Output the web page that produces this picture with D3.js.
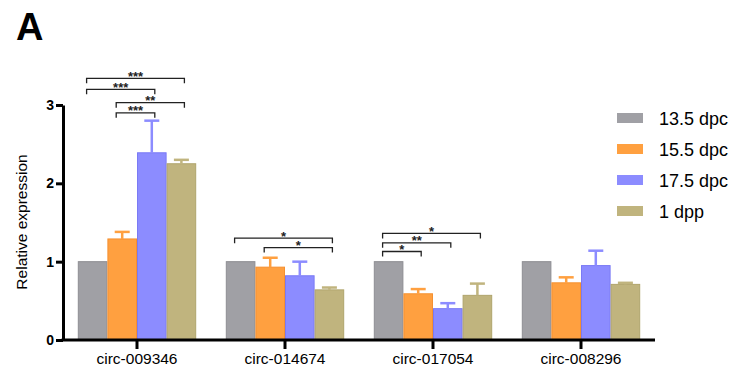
<!DOCTYPE html>
<html>
<head>
<meta charset="utf-8">
<script src="https://cdn.jsdelivr.net/npm/d3@7"></script>
<style>
  body { margin: 0; background: #fff; }
  svg { display: block; font-family: "Liberation Sans", Arial, sans-serif; }
</style>
</head>
<body>
<div id="chart"></div>
<script>
// data
const genes = ["circ-009346", "circ-014674", "circ-017054", "circ-008296"];
const stages = ["13.5 dpc", "15.5 dpc", "17.5 dpc", "1 dpp"];
const colors = ["#a0a0a5", "#ffa040", "#8c8cff", "#c0b47e"];
const strokes = ["#8e8e93", "#f59030", "#7a7af5", "#b0a46c"];

const means = [
  [1.00, 1.29, 2.39, 2.25],
  [1.00, 0.93, 0.82, 0.64],
  [1.00, 0.59, 0.40, 0.57],
  [1.00, 0.73, 0.95, 0.71]
];
const errs = [
  [0.00, 0.09, 0.41, 0.05],
  [0.00, 0.12, 0.18, 0.03],
  [0.00, 0.06, 0.07, 0.15],
  [0.00, 0.07, 0.19, 0.02]
];
// significance brackets: gene index, from stage, to stage, level, label
const sigs = [
  { g: 0, a: 0, b: 3, y: 3.34, label: "***" },
  { g: 0, a: 0, b: 2, y: 3.20, label: "***" },
  { g: 0, a: 1, b: 3, y: 3.03, label: "**" },
  { g: 0, a: 1, b: 2, y: 2.90, label: "***" },
  { g: 1, a: 0, b: 3, y: 1.30, label: "*" },
  { g: 1, a: 1, b: 3, y: 1.18, label: "*" },
  { g: 2, a: 0, b: 3, y: 1.36, label: "*" },
  { g: 2, a: 0, b: 2, y: 1.24, label: "**" },
  { g: 2, a: 0, b: 1, y: 1.13, label: "*" }
];
const yTicks = [0, 1, 2, 3];

const width = 740, height = 383;
const svg = d3.select("#chart").append("svg")
  .attr("width", width)
  .attr("height", height);

const x = d3.scaleBand()
  .domain(genes)
  .range([63, 655])
  .paddingInner(0.2)
  .paddingOuter(0.1);

const xs = d3.scaleBand()
  .domain(stages)
  .range([0, x.bandwidth()]);

const y = d3.scaleLinear()
  .domain([0, 3])
  .range([340, 105]);

// panel letter
svg.append("text")
  .attr("x", 16)
  .attr("y", 40)
  .attr("font-size", 38)
  .attr("font-weight", "bold")
  .text("A");

// bars
const groups = svg.selectAll("g.gene")
  .data(genes)
  .join("g")
  .attr("class", "gene")
  .attr("transform", d => `translate(${x(d)},0)`);

groups.each(function(gene, gi) {
  const g = d3.select(this);
  stages.forEach((s, si) => {
    const m = means[gi][si], e = errs[gi][si];
    const bx = xs(s), bw = xs.bandwidth();
    g.append("rect")
      .attr("x", bx + 0.5)
      .attr("y", y(m))
      .attr("width", bw - 1)
      .attr("height", y(0) - y(m))
      .attr("fill", colors[si])
      .attr("stroke", strokes[si])
      .attr("stroke-width", 1);
    if (e > 0) {
      const cx = bx + bw / 2;
      g.append("line")
        .attr("x1", cx).attr("x2", cx)
        .attr("y1", y(m)).attr("y2", y(m + e))
        .attr("stroke", colors[si]).attr("stroke-width", 2.5);
      g.append("line")
        .attr("x1", cx - 7.5).attr("x2", cx + 7.5)
        .attr("y1", y(m + e)).attr("y2", y(m + e))
        .attr("stroke", colors[si]).attr("stroke-width", 2.5);
    }
  });
});

// significance brackets
sigs.forEach(s => {
  const x0 = x(genes[s.g]) + xs(stages[s.a]) + xs.bandwidth() / 2 - 6;
  const x1 = x(genes[s.g]) + xs(stages[s.b]) + xs.bandwidth() / 2 + 3;
  const yy = y(s.y);
  svg.append("path")
    .attr("d", `M${x0},${yy + 5}V${yy}H${x1}V${yy + 5}`)
    .attr("fill", "none")
    .attr("stroke", "#222")
    .attr("stroke-width", 1.3);
  svg.append("text")
    .attr("x", (x0 + x1) / 2)
    .attr("y", yy + 2.5)
    .attr("text-anchor", "middle")
    .attr("font-size", 13)
    .attr("font-weight", "bold")
    .attr("fill", "#222")
    .text(s.label);
});

// axes
const yAxis = svg.append("g")
  .attr("transform", "translate(63,0)")
  .call(d3.axisLeft(y).tickValues(yTicks).tickFormat(d3.format("d")).tickSize(7).tickSizeOuter(0));
yAxis.select(".domain").attr("stroke-width", 3).attr("stroke", "#000");
yAxis.selectAll(".tick line").attr("stroke-width", 3);
yAxis.selectAll(".tick text")
  .attr("font-size", 14)
  .attr("font-weight", "bold")
  .attr("font-family", "Liberation Sans, Arial, sans-serif")
  .attr("x", -9);

const xAxis = svg.append("g")
  .attr("transform", "translate(0,340)")
  .call(d3.axisBottom(x).tickSize(9).tickSizeOuter(0));
xAxis.select(".domain").attr("stroke-width", 3).attr("stroke", "#000")
  .attr("d", "M61.5,0H655");
xAxis.selectAll(".tick line").attr("stroke-width", 3);
xAxis.selectAll(".tick text")
  .attr("font-size", 15.5)
  .attr("font-family", "Liberation Sans, Arial, sans-serif")
  .attr("y", 13);

// y label
svg.append("text")
  .attr("transform", "translate(27,222) rotate(-90)")
  .attr("text-anchor", "middle")
  .attr("font-size", 15.5)
  .text("Relative expression");

// legend
const legend = svg.selectAll("g.leg")
  .data(stages)
  .join("g")
  .attr("class", "leg")
  .attr("transform", (d, i) => `translate(617,${118 + i * 31})`);
legend.append("rect")
  .attr("x", 0).attr("y", -5)
  .attr("width", 26).attr("height", 10)
  .attr("fill", (d, i) => colors[i]);
legend.append("text")
  .attr("x", 42)
  .attr("y", 6.5)
  .attr("font-size", 18)
  .text(d => d);
</script>
</body>
</html>
